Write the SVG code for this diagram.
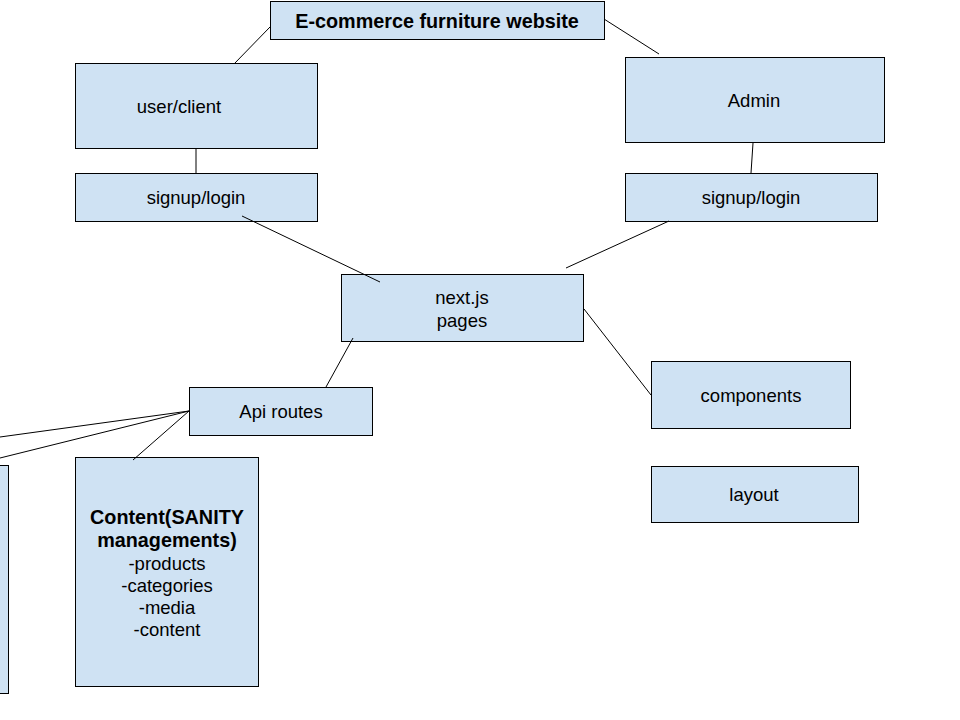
<svg xmlns="http://www.w3.org/2000/svg" width="960" height="720" viewBox="0 0 960 720">
<style>
.box{fill:#cfe2f3;stroke:#000;stroke-width:1}
.t{font-family:"Liberation Sans",Arial,sans-serif;font-size:18.5px;fill:#000;text-anchor:middle}
.b{font-weight:bold;font-size:19.8px}
.c line{stroke:#000;stroke-width:1}
</style>
<rect width="960" height="720" fill="#fff"/>
<g id="title"><rect class="box" x="270.5" y="1.5" width="334" height="38"/><text class="t b" x="437" y="28">E-commerce furniture website</text></g>
<g id="user"><rect class="box" x="75.5" y="63.5" width="242" height="85"/><text class="t" x="179" y="113">user/client</text></g>
<g id="signup-user"><rect class="box" x="75.5" y="173.5" width="242" height="48"/><text class="t" x="196" y="204">signup/login</text></g>
<g id="admin"><rect class="box" x="625.5" y="57.5" width="259" height="85"/><text class="t" x="754" y="107">Admin</text></g>
<g id="signup-admin"><rect class="box" x="625.5" y="173.5" width="252" height="48"/><text class="t" x="751" y="204">signup/login</text></g>
<g id="next"><rect class="box" x="341.5" y="274.5" width="242" height="67"/><text class="t" x="462" y="304">next.js</text><text class="t" x="462" y="327">pages</text></g>
<g id="api"><rect class="box" x="189.5" y="387.5" width="183" height="48"/><text class="t" x="281" y="418">Api routes</text></g>
<g id="components"><rect class="box" x="651.5" y="361.5" width="199" height="67"/><text class="t" x="751" y="402">components</text></g>
<g id="layout"><rect class="box" x="651.5" y="466.5" width="207" height="56"/><text class="t" x="754" y="501">layout</text></g>
<g id="content"><rect class="box" x="75.5" y="457.5" width="183" height="229"/>
<text class="t b" x="167" y="524">Content(SANITY</text>
<text class="t b" x="167" y="547">managements)</text>
<text class="t" x="167" y="570">-products</text>
<text class="t" x="167" y="592">-categories</text>
<text class="t" x="167" y="614">-media</text>
<text class="t" x="167" y="636">-content</text>
</g>
<g id="left-partial"><rect class="box" x="-100" y="465.5" width="108.5" height="228"/></g>
<g class="c" id="connectors">
<line x1="234" y1="64" x2="270" y2="27"/>
<line x1="604" y1="19" x2="659" y2="54"/>
<line x1="196" y1="148" x2="196" y2="173"/>
<line x1="753" y1="143" x2="751" y2="173"/>
<line x1="242" y1="216" x2="380" y2="282"/>
<line x1="669" y1="221" x2="566" y2="268"/>
<line x1="353" y1="338" x2="326" y2="387"/>
<line x1="584" y1="309" x2="651" y2="395"/>
<line x1="189" y1="411" x2="0" y2="437"/>
<line x1="189" y1="411" x2="0" y2="458"/>
<line x1="189" y1="411" x2="133" y2="460"/>
</g>
</svg>
